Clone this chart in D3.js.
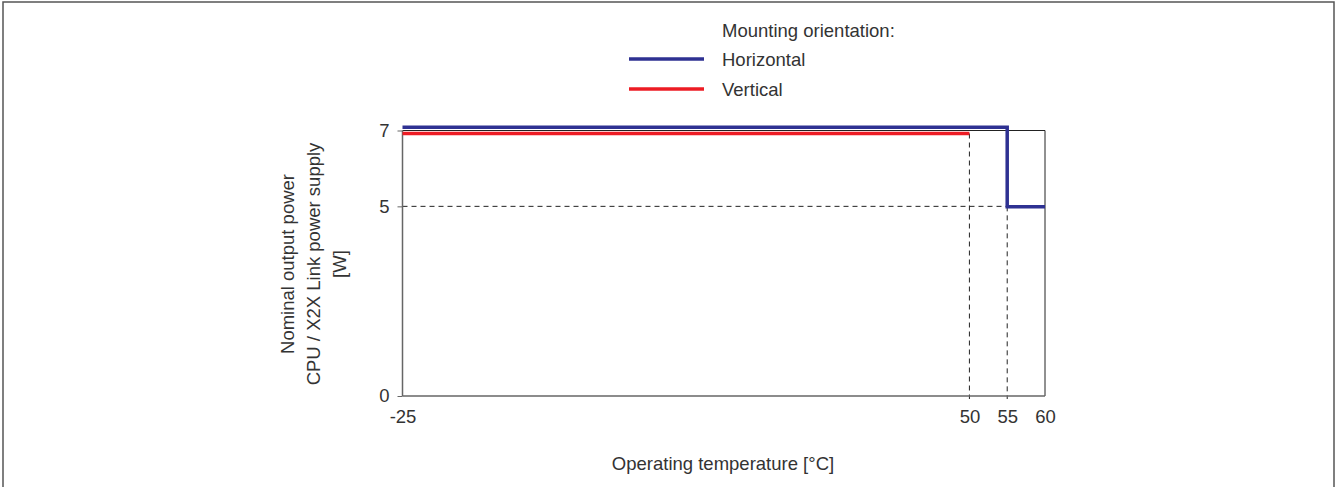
<!DOCTYPE html>
<html><head><meta charset="utf-8">
<script src="https://cdn.jsdelivr.net/npm/d3@7"></script>
<style>body{margin:0;background:#fff}svg{display:block;font-family:"Liberation Sans",Arial,sans-serif}</style>
</head><body><svg id="c" width="1336" height="487"></svg>
<script>
const xTicks = [-25, 50, 55, 60];
const yTicks = [0, 5, 7];
const horizontalX = [-25, 55, 55, 60];
const horizontalY = [7, 7, 5, 5];
const verticalX = [-25, 50];
const verticalY = [7, 7];
const legendLabels = ["Horizontal", "Vertical"];
const legendColors = ["#2e3192", "#ed1c24"];

const svg = d3.select("#c");
const x = d3.scaleLinear().domain([-25, 60]).range([402.5, 1045]);
const y = d3.scaleLinear().domain([0, 7]).range([396, 130.5]);
const txt = "#333";
const fs = 18.5;

// outer border
svg.append("rect").attr("x", 3).attr("y", 2).attr("width", 1331).attr("height", 500)
  .attr("fill", "none").attr("stroke", "#555").attr("stroke-width", 1.5);

// frame (top/right thin)
svg.append("path").attr("d", `M${x(-25)},${y(7)}H${x(60)}V${y(0)}`)
  .attr("fill", "none").attr("stroke", "#222").attr("stroke-width", 1);

// dashed guide lines
const dash = svg.append("g").attr("stroke", "#222").attr("stroke-width", 1).attr("stroke-dasharray", "5,4").attr("fill", "none");
dash.append("line").attr("x1", x(-25)).attr("x2", x(55)).attr("y1", y(5)).attr("y2", y(5));
dash.append("line").attr("x1", x(50)).attr("x2", x(50)).attr("y1", y(7) + 3).attr("y2", y(0) + 3);
dash.append("line").attr("x1", x(55)).attr("x2", x(55)).attr("y1", y(5)).attr("y2", y(0) + 3);

// axes
const yAxis = d3.axisLeft(y).tickValues(yTicks).tickSize(5).tickPadding(8).tickFormat(d => String(d));
const gy = svg.append("g").attr("transform", `translate(${x(-25)},0)`).call(yAxis);
gy.attr("font-size", fs).attr("font-family", null);
gy.select(".domain").attr("stroke", "#666").attr("stroke-width", 1.5).attr("d", `M0,${y(7)}V${y(0)}`);
gy.selectAll(".tick line").attr("stroke", "#666");
gy.selectAll("text").attr("fill", txt);

const xAxis = d3.axisBottom(x).tickValues(xTicks).tickSize(0).tickPadding(14).tickFormat(d => String(d));
const gx = svg.append("g").attr("transform", `translate(0,${y(0)})`).call(xAxis);
gx.attr("font-size", fs).attr("font-family", null);
gx.select(".domain").attr("stroke", "#666").attr("stroke-width", 1.5).attr("d", `M${x(-25)},0H${x(60)}`);
gx.selectAll("text").attr("fill", txt);

// series (overlapping lines at the top level are nudged apart so both stay visible)
const mkLine = off => d3.line().x(d => x(d[0])).y(d => y(d[1]) + (d[1] === 7 ? off : 0.5));
svg.append("path").datum(verticalX.map((v, i) => [v, verticalY[i]]))
  .attr("d", mkLine(3)).attr("fill", "none").attr("stroke", legendColors[1]).attr("stroke-width", 3.5);
svg.append("path").datum(horizontalX.map((v, i) => [v, horizontalY[i]]))
  .attr("d", mkLine(-3.2)).attr("fill", "none").attr("stroke", legendColors[0]).attr("stroke-width", 3.5);

// axis titles
svg.append("text").attr("x", 723).attr("y", 470).attr("text-anchor", "middle")
  .attr("font-size", fs).attr("fill", txt).text("Operating temperature [°C]");
const yl = svg.append("text").attr("transform", "translate(314,264) rotate(-90)")
  .attr("text-anchor", "middle").attr("font-size", fs).attr("fill", txt);
["Nominal output power", "CPU / X2X Link power supply", "[W]"].forEach((t, i) =>
  yl.append("tspan").attr("x", 0).attr("y", (i - 1) * 26 + 6).text(t));

// legend
svg.append("text").attr("x", 722).attr("y", 37).attr("font-size", fs).attr("fill", txt).text("Mounting orientation:");
legendLabels.forEach((l, i) => {
  const yy = 59 + i * 30;
  svg.append("line").attr("x1", 629).attr("x2", 704).attr("y1", yy).attr("y2", yy)
    .attr("stroke", legendColors[i]).attr("stroke-width", 3.5);
  svg.append("text").attr("x", 722).attr("y", yy + 7).attr("font-size", fs).attr("fill", txt).text(l);
});
</script></body></html>
